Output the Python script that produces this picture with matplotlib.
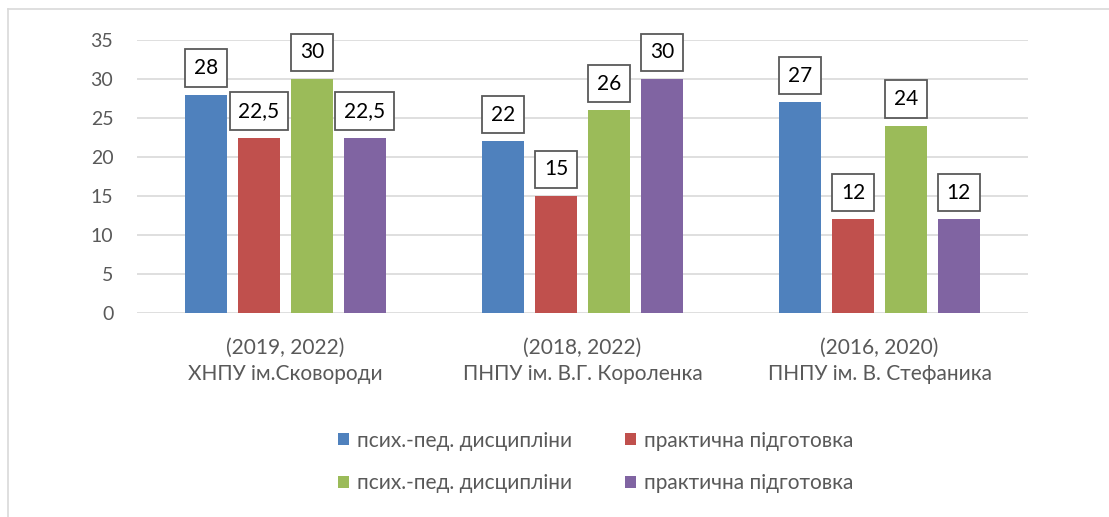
import matplotlib
matplotlib.use("Agg")
import matplotlib.pyplot as plt
from matplotlib.patches import Patch
from matplotlib.lines import Line2D
import numpy as np

plt.rcParams['font.family'] = ['Lato', 'DejaVu Sans']

categories = ["(2019, 2022)\nХНПУ ім.Сковороди",
              "(2018, 2022)\nПНПУ ім. В.Г. Короленка",
              "(2016, 2020)\nПНПУ ім. В. Стефаника"]
series_names = ["псих.-пед. дисципліни", "практична підготовка",
                "псих.-пед. дисципліни", "практична підготовка"]
values = [
    [28, 22, 27],
    [22.5, 15, 12],
    [30, 26, 24],
    [22.5, 30, 12],
]
colors = ["#4F81BD", "#C0504D", "#9BBB59", "#8064A2"]

fig = plt.figure(figsize=(11.09, 5.17), dpi=100)
ax = fig.add_axes([0.1235, 0.3946, 0.8035, 0.528])

x = np.arange(len(categories))
width = 0.141
pitch = 0.178

for i, (vals, c) in enumerate(zip(values, colors)):
    pos = x + (i - 1.5) * pitch
    ax.bar(pos, vals, width=width, color=c, zorder=3)
    for px, v in zip(pos, vals):
        label = f"{v:g}".replace(".", ",")
        ax.annotate(label, (px, v), xytext=(0, 12), textcoords="offset points",
                    ha="center", va="bottom", fontsize=15, color="black",
                    bbox=dict(boxstyle="square,pad=0.42", fc="white",
                              ec="#595959", lw=1.3), zorder=4)

ax.set_xlim(-0.5, 2.5)
ax.set_ylim(0, 35)
ax.set_yticks(range(0, 36, 5))
ax.set_xticks(x)
ax.set_xticklabels(categories, linespacing=1.36)
ax.tick_params(axis="both", length=0, colors="#595959")
ax.tick_params(axis="x", pad=18, labelsize=15)
ax.tick_params(axis="y", pad=17, labelsize=14)
ax.grid(axis="y", color="#D9D9D9", lw=1.2, zorder=0)
for s in ax.spines.values():
    s.set_visible(False)

# legend is filled row by row in the reference
order = [0, 2, 1, 3]
handles = [Patch(facecolor=colors[k], edgecolor="none") for k in order]
labels = [series_names[k] for k in order]
fig.legend(handles, labels, loc="center", ncol=2,
           bbox_to_anchor=(596 / 1109, 1 - 462 / 517), frameon=False,
           fontsize=15, labelcolor="#595959", handlelength=0.5,
           handleheight=0.5, handletextpad=0.4, columnspacing=2.55,
           labelspacing=1.1)

# chart area border (cropped)
fig.add_artist(Line2D([8 / 1109, 1], [1 - 9 / 517, 1 - 9 / 517],
                      color="#D9D9D9", lw=1.2))
fig.add_artist(Line2D([8 / 1109, 8 / 1109], [0, 1 - 9 / 517],
                      color="#D9D9D9", lw=1.2))

fig.savefig("out.png", dpi=100)
